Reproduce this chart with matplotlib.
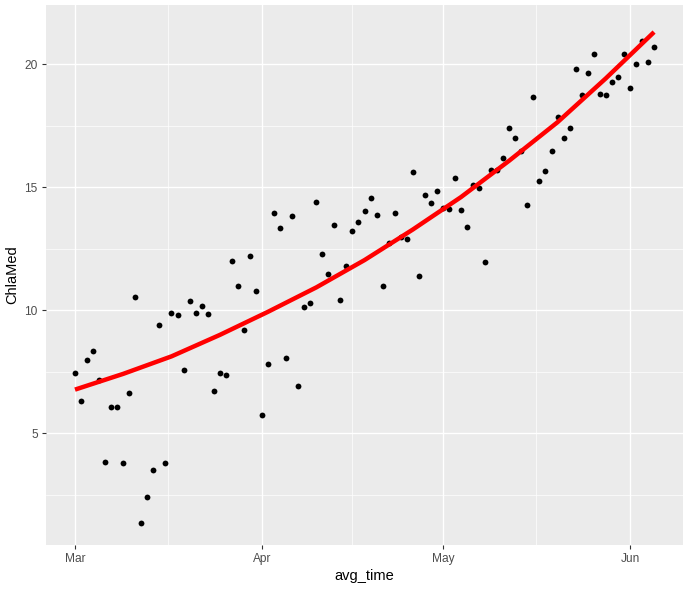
import numpy as np
import pandas as pd
import matplotlib
matplotlib.use("Agg")
import matplotlib.pyplot as plt
import matplotlib.dates as mdates

# daily values, 1 Mar - 5 Jun
start_date = "2019-03-01"
chla_med = [7.47, 6.33, 8.00, 8.36, 7.19, 3.85, 6.09, 6.09, 3.81, 6.65,
            10.56, 1.37, 2.43, 3.52, 9.42, 3.81, 9.91, 9.83, 7.59, 10.39,
            9.91, 10.19, 9.87, 6.74, 7.47, 7.39, 12.02, 11.00, 9.22, 12.22,
            10.80, 5.76, 7.83, 13.97, 13.36, 8.08, 13.85, 6.94, 10.15, 10.31,
            14.38, 12.30, 11.49, 13.48, 10.43, 11.78, 13.24, 13.57, 14.05, 14.58,
            13.89, 11.00, 12.75, 13.97, 12.96, 12.91, 15.60, 11.41, 14.70, 14.34,
            14.83, 14.17, 14.13, 15.39, 14.09, 13.40, 15.07, 14.95, 11.98, 15.68,
            15.68, 16.17, 17.39, 16.98, 16.45, 14.26, 18.65, 15.27, 15.64, 16.45,
            17.87, 16.98, 17.39, 19.78, 18.73, 19.62, 20.39, 18.77, 18.73, 19.26,
            19.46, 20.39, 19.01, 19.99, 20.92, 20.07, 20.68]

# smooth curve (day offset from 1 Mar, value)
smooth_day = [0, 8, 16, 24, 32, 40, 48, 56, 64, 72, 80, 88, 96]
smooth_val = [6.78, 7.42, 8.13, 9.00, 9.94, 10.93, 12.04, 13.28, 14.60,
              16.08, 17.64, 19.42, 21.30]

t0 = pd.Timestamp(start_date)
avg_time = pd.date_range(start_date, periods=len(chla_med), freq="D")
smooth_time = [t0 + pd.Timedelta(days=d) for d in smooth_day]

plt.rcParams["font.family"] = ["Liberation Sans", "DejaVu Sans"]

fig = plt.figure(figsize=(6.9, 5.92), dpi=100)
ax = fig.add_axes([0.0667, 0.0794, 0.9232, 0.9122])
ax.set_facecolor("#EBEBEB")

ax.plot(avg_time, chla_med, "o", color="black", markersize=4.2, markeredgewidth=0, zorder=3)
ax.plot(smooth_time, smooth_val, color="#FF0000", lw=3.2, solid_capstyle="butt",
        solid_joinstyle="round", zorder=4)

ax.set_xlim(t0 - pd.Timedelta(days=4.8), t0 + pd.Timedelta(days=100.8))
ax.set_ylim(0.47, 22.40)

ax.xaxis.set_major_locator(mdates.MonthLocator())
ax.xaxis.set_major_formatter(mdates.DateFormatter("%b"))
minor_x = [t0 + pd.Timedelta(days=d) for d in [15.5, 46, 76.5]]
ax.set_xticks(minor_x, minor=True)
ax.set_yticks([5, 10, 15, 20])
ax.set_yticks([2.5, 7.5, 12.5, 17.5], minor=True)

ax.grid(which="major", color="white", lw=1.0)
ax.grid(which="minor", color="white", lw=0.5)
ax.set_axisbelow(True)
for s in ax.spines.values():
    s.set_visible(False)

ax.tick_params(which="major", length=3, width=0.8, color="#333333",
               labelcolor="#4D4D4D", labelsize=8.6, pad=3)
ax.tick_params(which="minor", length=0)

ax.set_xlabel("avg_time", fontsize=10.5, color="black", labelpad=3)
ax.set_ylabel("ChlaMed", fontsize=10.5, color="black", labelpad=4)

fig.savefig("out.png", dpi=100, facecolor="white")
